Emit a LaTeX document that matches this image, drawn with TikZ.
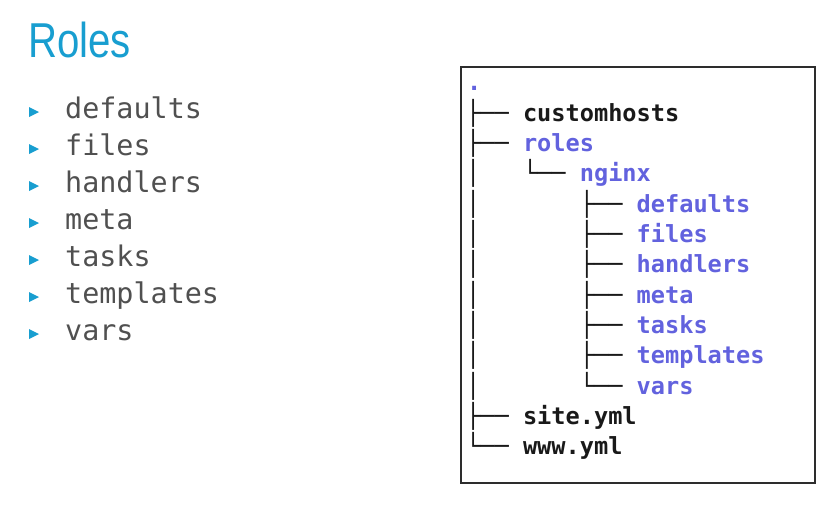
\documentclass[tikz,border=0pt]{standalone}
\usepackage{fontspec}
\setmainfont{Liberation Sans}
\newfontfamily\treefont{DejaVu Sans Mono}
\newfontfamily\listfont{DejaVu Sans Mono}
\definecolor{titleblue}{RGB}{24,158,208}
\definecolor{listgray}{RGB}{80,80,80}
\definecolor{dirblue}{RGB}{98,98,222}
\definecolor{treeblack}{RGB}{25,25,25}
\definecolor{boxgray}{RGB}{45,45,45}
\newcommand{\dir}[1]{\textcolor{dirblue}{\bfseries #1}}
\newcommand{\fil}[1]{{\bfseries #1}}
\begin{document}
\begin{tikzpicture}[x=1pt,y=-1pt,
  titlestyle/.style={anchor=base west,inner sep=0pt,text=titleblue,font=\fontsize{49}{49}\selectfont,xscale=0.82},
  listitem/.style={anchor=base west,inner sep=0pt,text=listgray,font=\listfont\fontsize{28.4}{30}\selectfont},
  bulletmark/.style={fill=titleblue},
  treerow/.style={anchor=base west,inner sep=0pt,text=treeblack,font=\treefont\fontsize{23.6}{26}\selectfont},
  framebox/.style={draw=boxgray,line width=1.6pt}
]
\useasboundingbox (0,0) rectangle (839,507);
\node[titlestyle] (title) at (28,57.3) {Roles};
% bullet list
\foreach \t [count=\i from 0] in {defaults,files,handlers,meta,tasks,templates,vars}{
  \fill[bulletmark] (29,{112-5+37*\i}) -- (29,{112+5+37*\i}) -- (39,{112+37*\i}) -- cycle;
  \node[listitem] (item\i) at (65,{118+37*\i}) {\t};
}
% tree box
\draw[framebox] (461,67) rectangle (815,483);
\node[treerow] (r00) at (467,90.8) {\dir{.}};
\node[treerow] (r0) at (466,121) {├──~\fil{customhosts}};
\node[treerow] (r1) at (466,151.35) {├──~\dir{roles}};
\node[treerow] (r2) at (466,181.7) {│~~~└──~\dir{nginx}};
\node[treerow] (r3) at (466,212.05) {│~~~~~~~├──~\dir{defaults}};
\node[treerow] (r4) at (466,242.4) {│~~~~~~~├──~\dir{files}};
\node[treerow] (r5) at (466,272.75) {│~~~~~~~├──~\dir{handlers}};
\node[treerow] (r6) at (466,303.1) {│~~~~~~~├──~\dir{meta}};
\node[treerow] (r7) at (466,333.45) {│~~~~~~~├──~\dir{tasks}};
\node[treerow] (r8) at (466,363.8) {│~~~~~~~├──~\dir{templates}};
\node[treerow] (r9) at (466,394.15) {│~~~~~~~└──~\dir{vars}};
\node[treerow] (r10) at (466,424.5) {├──~\fil{site.yml}};
\node[treerow] (r11) at (466,454.85) {└──~\fil{www.yml}};
\end{tikzpicture}
\end{document}
